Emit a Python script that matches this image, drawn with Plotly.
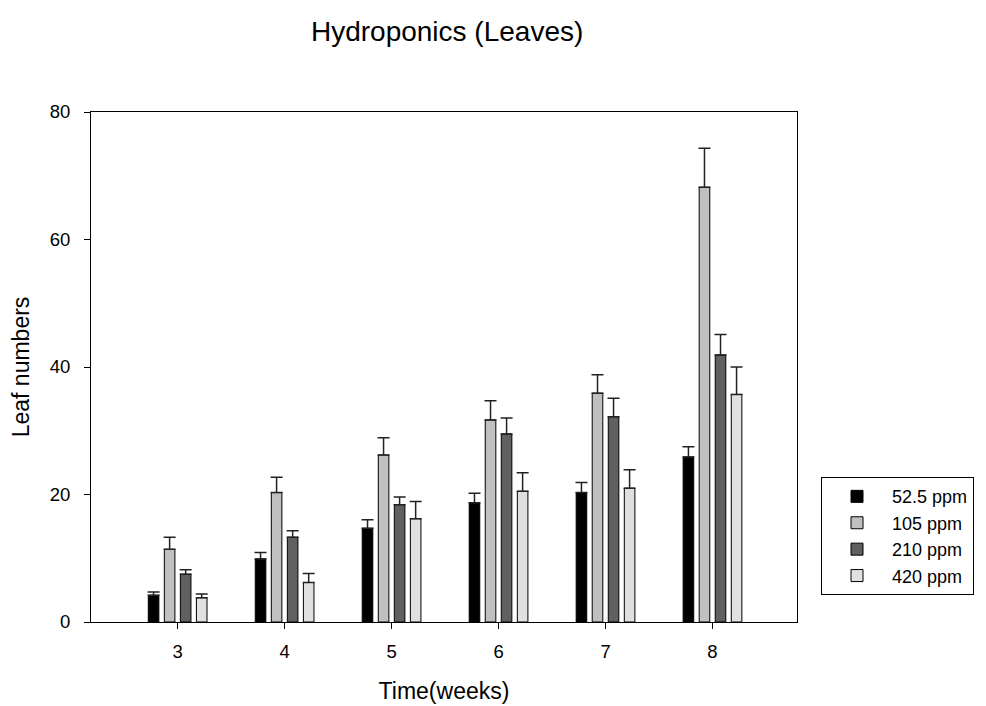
import plotly.graph_objects as go

weeks = [3, 4, 5, 6, 7, 8]
series_names = ["52.5 ppm", "105 ppm", "210 ppm", "420 ppm"]

# mean leaf numbers per week
leaf_52 = [4.2, 9.9, 14.7, 18.7, 20.3, 25.9]
leaf_105 = [11.4, 20.3, 26.2, 31.7, 35.9, 68.2]
leaf_210 = [7.5, 13.3, 18.4, 29.5, 32.2, 41.9]
leaf_420 = [3.8, 6.2, 16.2, 20.5, 21.0, 35.7]

# upper error (SE)
err_52 = [0.5, 1.0, 1.35, 1.5, 1.6, 1.6]
err_105 = [1.9, 2.4, 2.7, 3.0, 2.9, 6.1]
err_210 = [0.7, 1.0, 1.2, 2.5, 2.9, 3.2]
err_420 = [0.6, 1.4, 2.7, 2.9, 2.9, 4.3]

colors = ["#000000", "#c0c0c0", "#606060", "#e0e0e0"]

fig = go.Figure()
for name, vals, errs, col in zip(series_names,
                                 [leaf_52, leaf_105, leaf_210, leaf_420],
                                 [err_52, err_105, err_210, err_420],
                                 colors):
    fig.add_trace(go.Bar(
        x=weeks, y=vals, name=name,
        marker=dict(color=col, line=dict(color="#000000", width=1)),
        error_y=dict(type="data", array=errs, symmetric=False,
                     arrayminus=[0] * len(errs),
                     color="#222222", thickness=1.5, width=6),
    ))

# page body has an 8px margin, so the figure is shrunk by that much
fig.update_layout(
    width=978, height=698,
    barmode="group", bargap=0.4, bargroupgap=0.34,
    plot_bgcolor="white", paper_bgcolor="white",
    font=dict(family="Liberation Sans, Arial, sans-serif", size=18.5, color="#000000"),
    title=dict(text="Hydroponics (Leaves)", x=0.449, xanchor="center",
               y=0.967, yanchor="middle", font=dict(size=28)),
    margin=dict(l=83, r=189, t=104, b=84),
    xaxis=dict(
        range=[2.19, 8.79], tickvals=weeks, ticks="outside", ticklen=6,
        tickcolor="#000000", showline=True, linecolor="#000000", linewidth=1,
        mirror=True, showgrid=False, zeroline=False, ticklabelstandoff=7,
        automargin=False,
        title=dict(text="Time(weeks)", font=dict(size=23), standoff=21),
    ),
    yaxis=dict(
        range=[0, 80], tickvals=[0, 20, 40, 60, 80], ticks="outside", ticklen=6,
        tickcolor="#000000", showline=True, linecolor="#000000", linewidth=1,
        mirror=True, showgrid=False, zeroline=False, ticklabelstandoff=10,
        automargin=False,
        title=dict(text="Leaf numbers", font=dict(size=23), standoff=14),
    ),
    legend=dict(
        x=1.034, xanchor="left", y=0.284, yanchor="top",
        bordercolor="#000000", borderwidth=1, bgcolor="white",
        font=dict(size=18), tracegroupgap=0, itemwidth=60, entrywidth=190,
    ),
)

fig.write_html("out.html")
